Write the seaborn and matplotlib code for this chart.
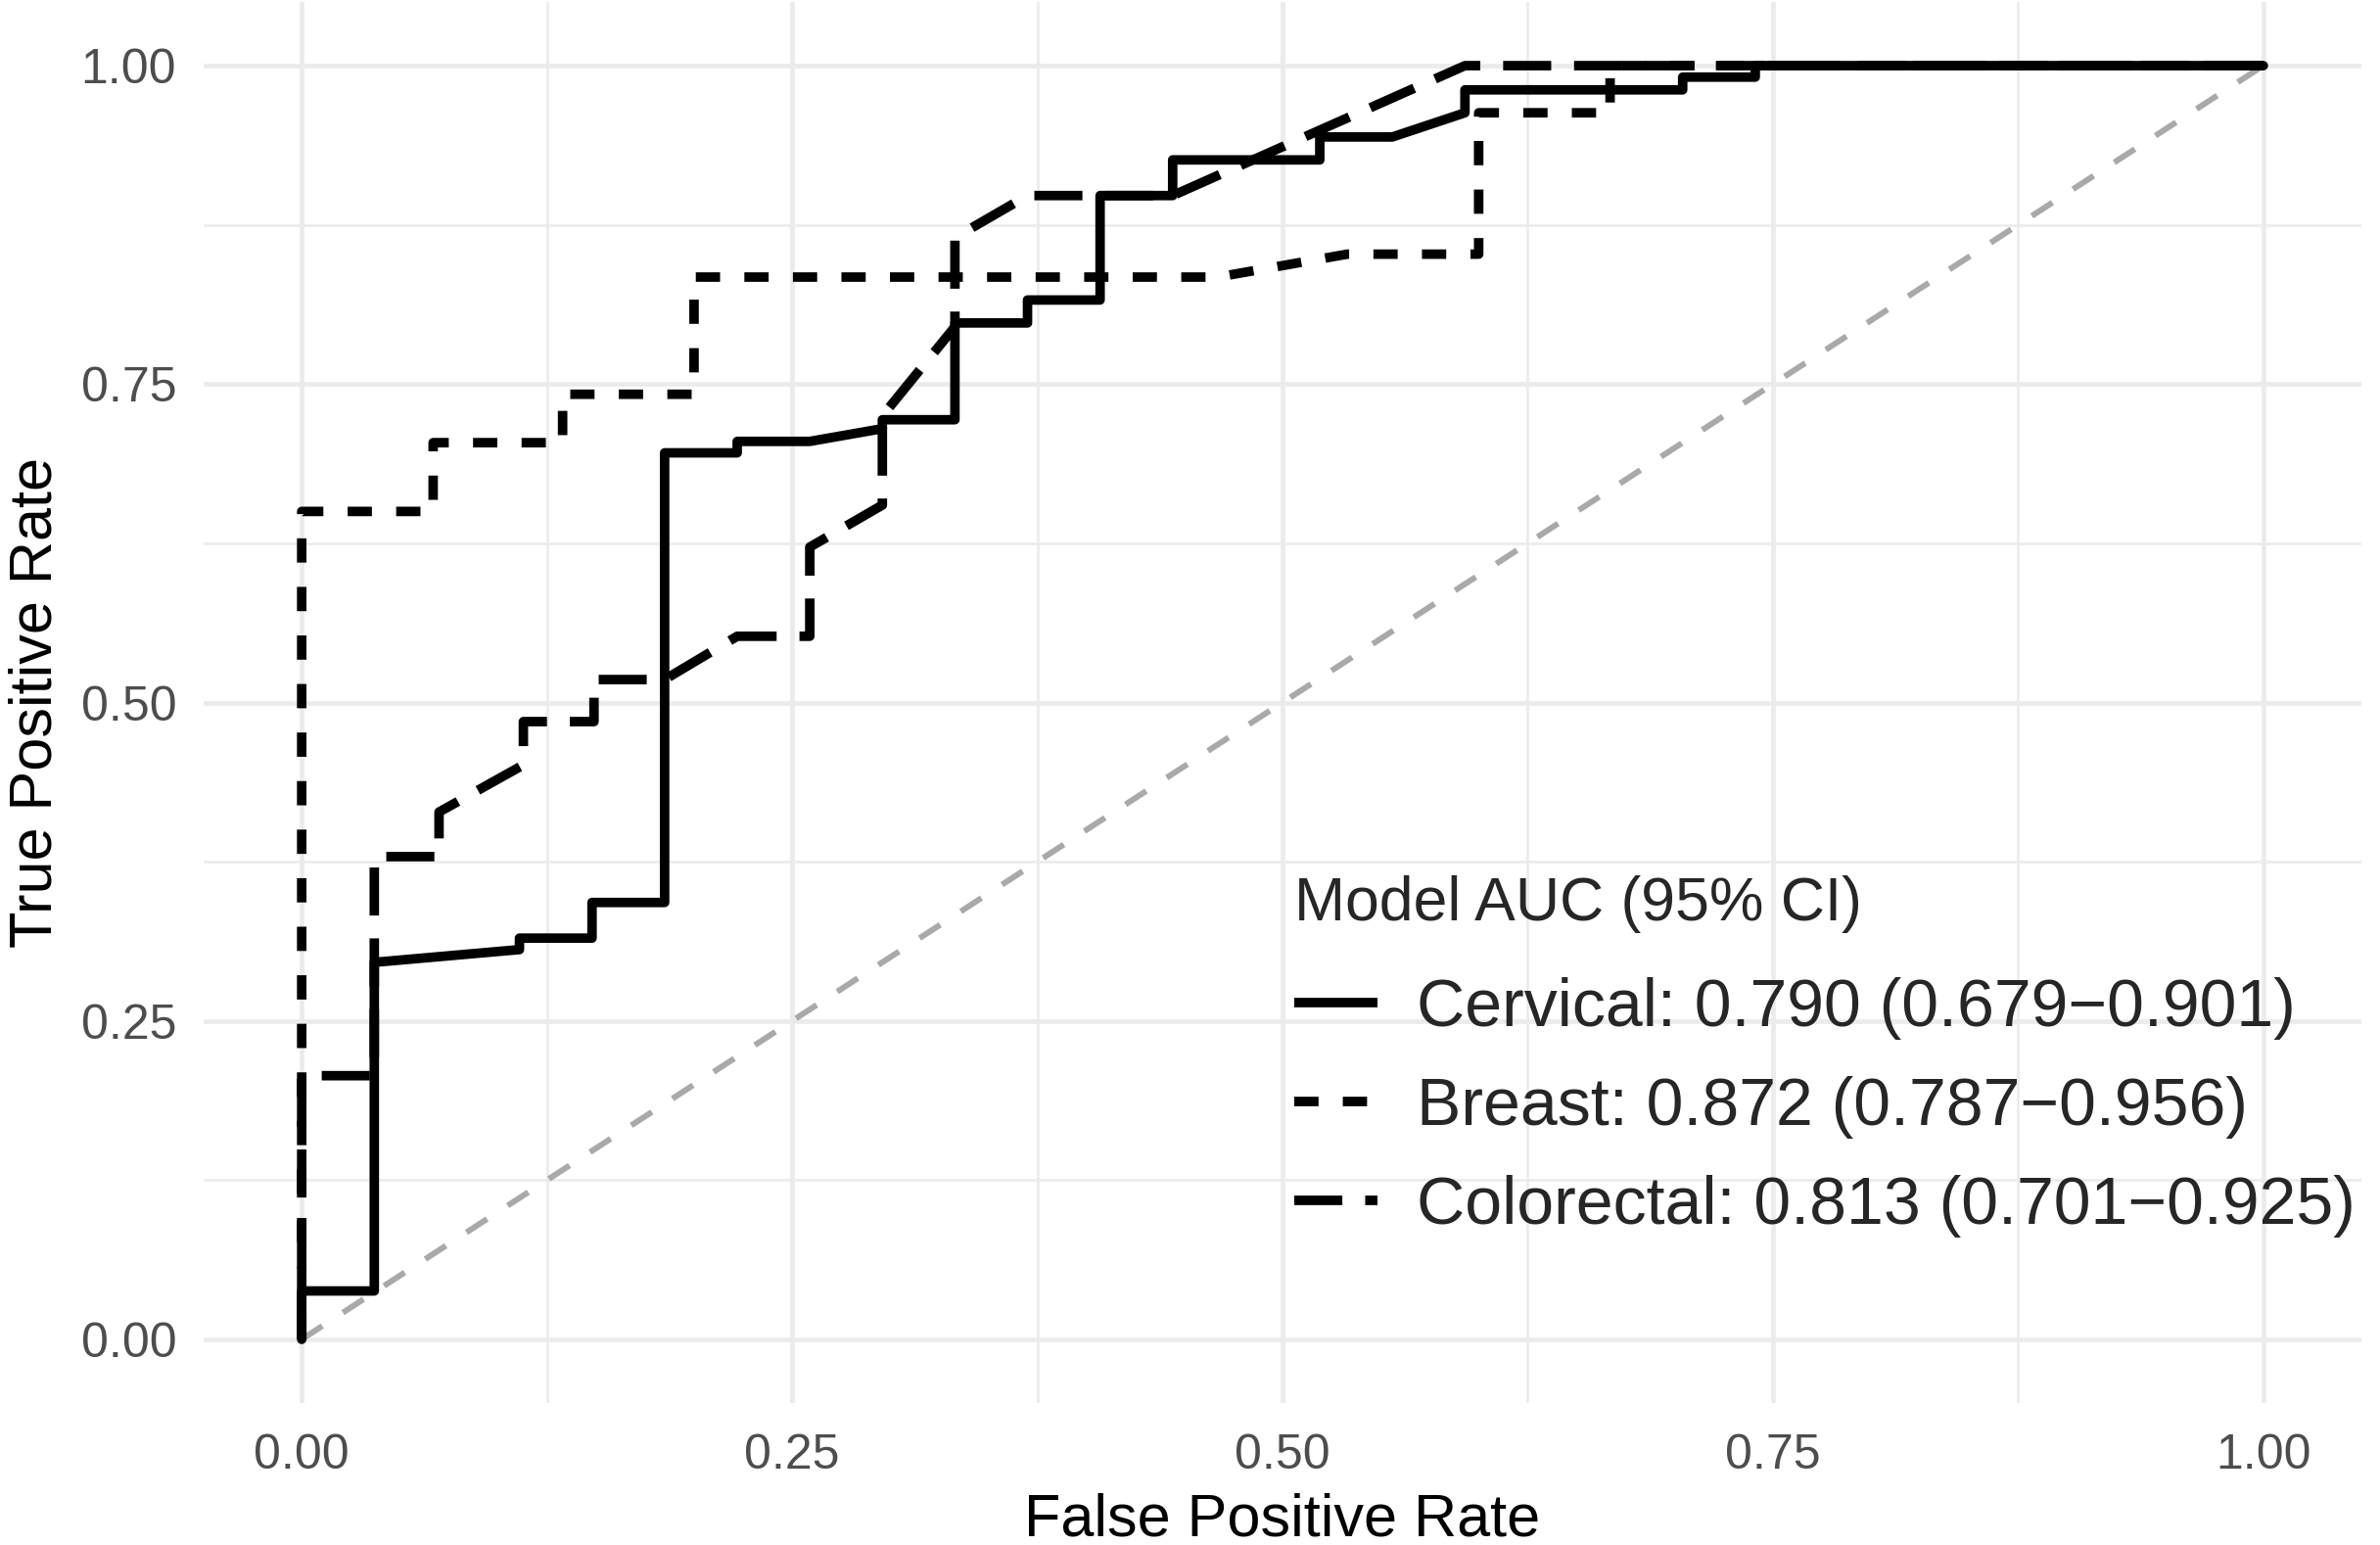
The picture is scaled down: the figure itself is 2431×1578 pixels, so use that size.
import numpy as np
import pandas as pd
import matplotlib
matplotlib.use("Agg")
import matplotlib.pyplot as plt
import seaborn as sns

# ---------------- data ----------------
legend_title = "Model AUC (95% CI)"
legend_labels = [
    "Cervical: 0.790 (0.679\u22120.901)",
    "Breast: 0.872 (0.787\u22120.956)",
    "Colorectal: 0.813 (0.701\u22120.925)",
]

cervical_fpr = [0, 0, 0.037, 0.037, 0.111, 0.111, 0.148, 0.148, 0.185, 0.185,
                0.222, 0.222, 0.259, 0.296, 0.296, 0.333, 0.333, 0.370, 0.370,
                0.407, 0.407, 0.444, 0.444, 0.519, 0.519, 0.556, 0.593, 0.593,
                0.704, 0.704, 0.741, 0.741, 1.0]
cervical_tpr = [0, 0.038, 0.038, 0.296, 0.306, 0.315, 0.315, 0.343, 0.343, 0.696,
                0.696, 0.705, 0.705, 0.715, 0.722, 0.722, 0.798, 0.798, 0.816,
                0.816, 0.898, 0.898, 0.926, 0.926, 0.944, 0.944, 0.963, 0.981,
                0.981, 0.991, 0.991, 1.0, 1.0]

breast_fpr = [0, 0, 0.067, 0.067, 0.133, 0.133, 0.2, 0.2, 0.467, 0.533, 0.6,
              0.6, 0.667, 0.667, 1.0]
breast_tpr = [0, 0.650, 0.650, 0.704, 0.704, 0.742, 0.742, 0.834, 0.834, 0.852,
              0.852, 0.963, 0.963, 1.0, 1.0]

colorectal_fpr = [0, 0, 0.037, 0.037, 0.070, 0.070, 0.113, 0.113, 0.149, 0.149,
                  0.185, 0.222, 0.259, 0.259, 0.296, 0.296, 0.333, 0.333, 0.370,
                  0.444, 0.593, 1.0]
colorectal_tpr = [0, 0.207, 0.207, 0.379, 0.379, 0.414, 0.451, 0.485, 0.485, 0.518,
                  0.518, 0.552, 0.552, 0.622, 0.655, 0.725, 0.795, 0.865, 0.898,
                  0.898, 1.0, 1.0]

diag_x = [0, 1]
diag_y = [0, 1]

tick_vals = [0.0, 0.25, 0.5, 0.75, 1.0]
tick_labels = ["0.00", "0.25", "0.50", "0.75", "1.00"]
minor_vals = [0.125, 0.375, 0.625, 0.875]

df = pd.concat([
    pd.DataFrame({"fpr": cervical_fpr, "tpr": cervical_tpr, "model": legend_labels[0]}),
    pd.DataFrame({"fpr": breast_fpr, "tpr": breast_tpr, "model": legend_labels[1]}),
    pd.DataFrame({"fpr": colorectal_fpr, "tpr": colorectal_tpr, "model": legend_labels[2]}),
], ignore_index=True)

# ---------------- style ----------------
sns.set_theme(style="whitegrid")
plt.rcParams["font.family"] = ["Liberation Sans", "DejaVu Sans"]

W, H = 2431, 1578
fig = plt.figure(figsize=(W / 100, H / 100), dpi=100)
fig.patch.set_facecolor("white")
ax = fig.add_axes([208 / W, 1 - 1433 / H, (2412 - 208) / W, (1433 - 2) / H])
ax.set_facecolor("white")

grid_col = "#EBEBEB"
ax.set_xticks(tick_vals)
ax.set_yticks(tick_vals)
ax.set_xticks(minor_vals, minor=True)
ax.set_yticks(minor_vals, minor=True)
ax.set_xticklabels(tick_labels)
ax.set_yticklabels(tick_labels)
ax.grid(which="major", color=grid_col, linewidth=3.4)
ax.grid(which="minor", color=grid_col, linewidth=1.8)
ax.set_axisbelow(True)
for s in ax.spines.values():
    s.set_visible(False)
ax.tick_params(which="both", length=0)
ax.tick_params(axis="y", labelsize=36, labelcolor="#4D4D4D", pad=20)
ax.tick_params(axis="x", labelsize=36, labelcolor="#4D4D4D", pad=22)

ax.plot(diag_x, diag_y, color="#A9A9A9", linewidth=4.3,
        linestyle=(0, (4.2, 4.2)), zorder=1.5)

lw = 7.0
sns.lineplot(data=df, x="fpr", y="tpr", style="model", style_order=legend_labels,
             dashes=["", (2.55, 2.55), (5.05, 2.4)], color="black", linewidth=lw,
             sort=False, estimator=None, ax=ax, zorder=2)

ax.set_xlim(-0.05, 1.05)
ax.set_ylim(-0.05, 1.05)
ax.set_xlabel("False Positive Rate", fontsize=44, color="black", labelpad=11)
ax.set_ylabel("True Positive Rate", fontsize=44, color="black", labelpad=12)

old = ax.get_legend()
handles = list(old.legend_handles)
labels = [t.get_text() for t in old.texts]
old.remove()
for h in handles:
    h.set_color("black")
    h.set_linewidth(lw)
    h.set_dash_capstyle("butt")
    h.set_solid_capstyle("butt")

leg = ax.legend(handles, labels, title=legend_title, loc="upper left",
                bbox_to_anchor=(1322 / W, 1 - 894 / H), bbox_transform=fig.transFigure,
                frameon=False, fontsize=49, title_fontsize=45, borderpad=0,
                borderaxespad=0, handlelength=1.25, handletextpad=0.58,
                labelspacing=0.54, alignment="left")
leg._legend_box.sep = 45 * 0.72

fig.savefig("out.png", dpi=100, facecolor="white")
